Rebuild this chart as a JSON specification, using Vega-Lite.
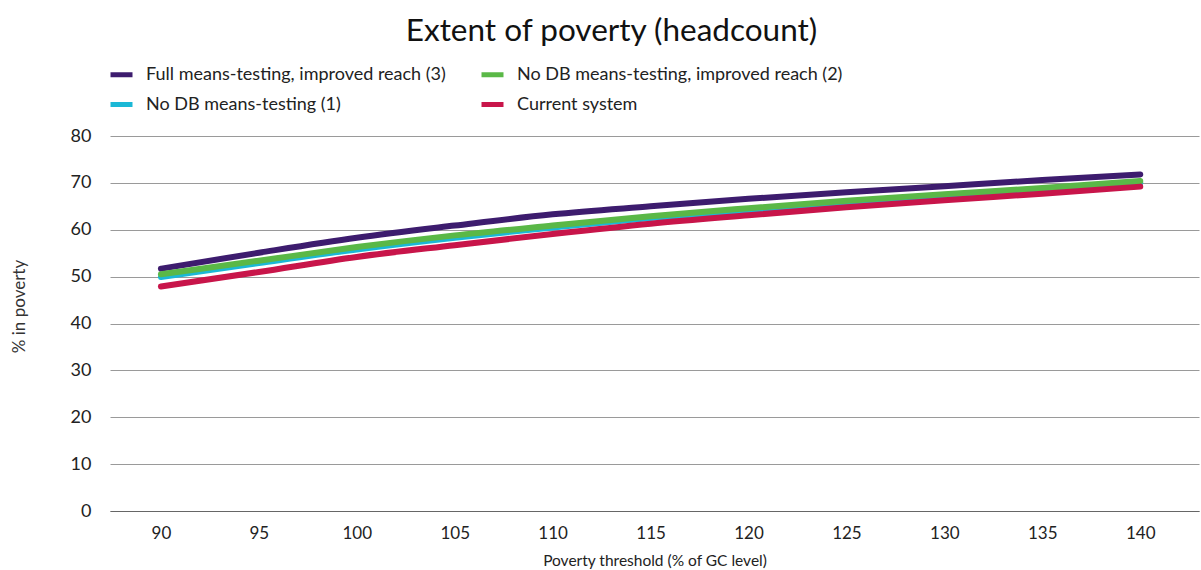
{
  "$schema": "https://vega.github.io/schema/vega-lite/v6.json",
  "width": 1089,
  "height": 375,
  "autosize": "none",
  "padding": {"left": 110, "top": 136, "right": 2, "bottom": 59},
  "background": "white",
  "title": {
    "text": "Extent of poverty (headcount)",
    "anchor": "middle",
    "dx": -43,
    "offset": 14,
    "font": "Lato",
    "fontSize": 31.5,
    "fontWeight": "normal",
    "color": "#111111"
  },
  "config": {
    "view": {"stroke": null},
    "font": "Lato"
  },
  "data": {
    "values": [
      {"threshold": 90, "scenario": "Full means-testing, improved reach (3)", "pct": 51.7},
      {"threshold": 95, "scenario": "Full means-testing, improved reach (3)", "pct": 55.1},
      {"threshold": 100, "scenario": "Full means-testing, improved reach (3)", "pct": 58.3},
      {"threshold": 105, "scenario": "Full means-testing, improved reach (3)", "pct": 60.9},
      {"threshold": 110, "scenario": "Full means-testing, improved reach (3)", "pct": 63.3},
      {"threshold": 115, "scenario": "Full means-testing, improved reach (3)", "pct": 65.0},
      {"threshold": 120, "scenario": "Full means-testing, improved reach (3)", "pct": 66.6},
      {"threshold": 125, "scenario": "Full means-testing, improved reach (3)", "pct": 68.0},
      {"threshold": 130, "scenario": "Full means-testing, improved reach (3)", "pct": 69.3},
      {"threshold": 135, "scenario": "Full means-testing, improved reach (3)", "pct": 70.6},
      {"threshold": 140, "scenario": "Full means-testing, improved reach (3)", "pct": 71.8},
      {"threshold": 90, "scenario": "No DB means-testing (1)", "pct": 49.9},
      {"threshold": 95, "scenario": "No DB means-testing (1)", "pct": 52.9},
      {"threshold": 100, "scenario": "No DB means-testing (1)", "pct": 55.8},
      {"threshold": 105, "scenario": "No DB means-testing (1)", "pct": 58.3},
      {"threshold": 110, "scenario": "No DB means-testing (1)", "pct": 60.5},
      {"threshold": 115, "scenario": "No DB means-testing (1)", "pct": 62.5},
      {"threshold": 120, "scenario": "No DB means-testing (1)", "pct": 64.2},
      {"threshold": 125, "scenario": "No DB means-testing (1)", "pct": 65.8},
      {"threshold": 130, "scenario": "No DB means-testing (1)", "pct": 67.2},
      {"threshold": 135, "scenario": "No DB means-testing (1)", "pct": 68.5},
      {"threshold": 140, "scenario": "No DB means-testing (1)", "pct": 70.0},
      {"threshold": 90, "scenario": "No DB means-testing, improved reach (2)", "pct": 50.5},
      {"threshold": 95, "scenario": "No DB means-testing, improved reach (2)", "pct": 53.4},
      {"threshold": 100, "scenario": "No DB means-testing, improved reach (2)", "pct": 56.3},
      {"threshold": 105, "scenario": "No DB means-testing, improved reach (2)", "pct": 58.8},
      {"threshold": 110, "scenario": "No DB means-testing, improved reach (2)", "pct": 60.9},
      {"threshold": 115, "scenario": "No DB means-testing, improved reach (2)", "pct": 62.9},
      {"threshold": 120, "scenario": "No DB means-testing, improved reach (2)", "pct": 64.6},
      {"threshold": 125, "scenario": "No DB means-testing, improved reach (2)", "pct": 66.2},
      {"threshold": 130, "scenario": "No DB means-testing, improved reach (2)", "pct": 67.6},
      {"threshold": 135, "scenario": "No DB means-testing, improved reach (2)", "pct": 68.9},
      {"threshold": 140, "scenario": "No DB means-testing, improved reach (2)", "pct": 70.4},
      {"threshold": 90, "scenario": "Current system", "pct": 47.9},
      {"threshold": 95, "scenario": "Current system", "pct": 51.0},
      {"threshold": 100, "scenario": "Current system", "pct": 54.2},
      {"threshold": 105, "scenario": "Current system", "pct": 56.7},
      {"threshold": 110, "scenario": "Current system", "pct": 59.1},
      {"threshold": 115, "scenario": "Current system", "pct": 61.3},
      {"threshold": 120, "scenario": "Current system", "pct": 63.1},
      {"threshold": 125, "scenario": "Current system", "pct": 64.8},
      {"threshold": 130, "scenario": "Current system", "pct": 66.3},
      {"threshold": 135, "scenario": "Current system", "pct": 67.7},
      {"threshold": 140, "scenario": "Current system", "pct": 69.2}
    ]
  },
  "mark": {"type": "line", "strokeWidth": 6, "strokeCap": "round", "interpolate": "monotone"},
  "encoding": {
    "x": {
      "field": "threshold",
      "type": "quantitative",
      "scale": {"domain": [87.4, 143], "nice": false, "zero": false},
      "axis": {
        "values": [90, 95, 100, 105, 110, 115, 120, 125, 130, 135, 140],
        "title": "Poverty threshold (% of GC level)",
        "grid": false,
        "ticks": false,
        "domain": true,
        "domainColor": "#666666",
        "domainWidth": 1,
        "labelFontSize": 17,
        "labelColor": "#222222",
        "labelPadding": 14,
        "titleFontSize": 15.5,
        "titleFontWeight": "normal",
        "titleColor": "#222222",
        "titlePadding": 12
      }
    },
    "y": {
      "field": "pct",
      "type": "quantitative",
      "scale": {"domain": [0, 80], "nice": false},
      "axis": {
        "values": [0, 10, 20, 30, 40, 50, 60, 70, 80],
        "title": "% in poverty",
        "titleY": 170,
        "grid": true,
        "gridColor": "#9a9a9a",
        "gridWidth": 1,
        "ticks": false,
        "domain": false,
        "labelFontSize": 18,
        "labelColor": "#222222",
        "labelPadding": 19,
        "titleFontSize": 17,
        "titleFontWeight": "normal",
        "titleColor": "#333333",
        "titlePadding": 42
      }
    },
    "color": {
      "field": "scenario",
      "type": "nominal",
      "scale": {
        "domain": ["Full means-testing, improved reach (3)", "No DB means-testing (1)", "No DB means-testing, improved reach (2)", "Current system"],
        "range": ["#3d1c6e", "#1bb8d6", "#5ab847", "#c8154a"]
      },
      "legend": {
        "title": null,
        "orient": "none",
        "legendX": -2,
        "legendY": -75,
        "columns": 2,
        "columnPadding": 25,
        "rowPadding": 6,
        "symbolType": "stroke",
        "symbolSize": 484,
        "symbolStrokeWidth": 5,
        "labelFontSize": 18,
        "labelColor": "#222222",
        "labelOffset": 11,
        "labelLimit": 450
      }
    },
    "order": {"field": "scenario"}
  }
}
